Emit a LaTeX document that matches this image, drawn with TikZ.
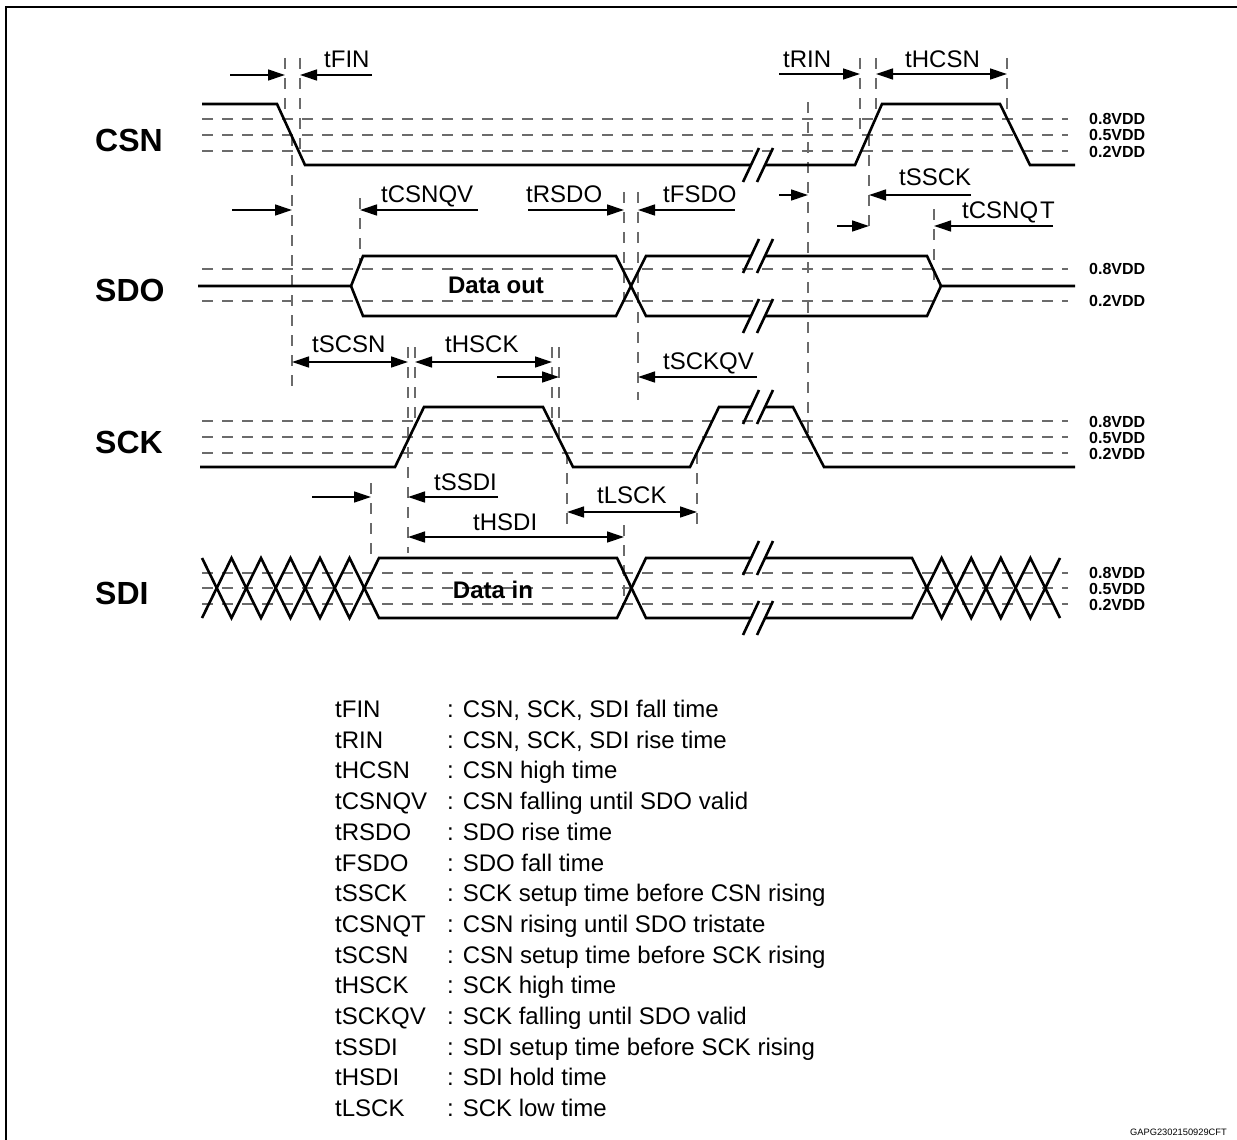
\documentclass[tikz,border=0pt]{standalone}
\usepackage{fontspec}
\setmainfont{Liberation Sans}
\usetikzlibrary{arrows.meta, calc}

\begin{document}
\begin{tikzpicture}[x=1pt, y=-1pt, >={Triangle[length=17pt, width=11pt]},
  senal/.style={line width=2.6pt},
  guia/.style={line width=1.15pt, black!58, dash pattern=on 11pt off 9pt},
  cota/.style={line width=1.3pt},
  etiq/.style={font=\fontsize{24}{28}\selectfont, inner sep=0pt, anchor=base west},
  nombre/.style={font=\bfseries\fontsize{32}{36}\selectfont, inner sep=0pt, anchor=west},
  nivel/.style={font=\bfseries\fontsize{16}{18}\selectfont, inner sep=0pt, anchor=west}]
  \useasboundingbox (0,0) rectangle (1237,1140);
  % marco
  \draw[line width=2.5pt] (6,1170) -- (6,7) -- (1270,7);

  % niveles de umbral
  \foreach \y in {119,135,151, 269,301, 421,437,453, 573,588,604}
    \draw[guia] (202,\y) -- (1068,\y);
  \foreach \y/\v [count=\i] in {119/0.8,135/0.5,152/0.2, 269/0.8,301/0.2,
      422/0.8,438/0.5,454/0.2, 573/0.8,589/0.5,605/0.2}
    \node[nivel] (niv\i) at (1089,\y) {\v VDD};

  % lineas de referencia verticales
  \foreach \x/\ya/\yb in {285/58/119, 300/58/151, 292/135/388, 360/198/262,
      624/192/301, 638/192/400, 808/102/436, 860/58/135, 876/58/119,
      1007/58/119, 869/135/233, 934/209/280, 408/347/553, 415/347/421,
      552/347/421, 559/347/437, 567/453/530, 697/453/530, 371/483/560,
      624/525/605}
    \draw[guia] (\x,\ya) -- (\x,\yb);

  % senales
  \node[nombre] (csn) at (95,140) {CSN};
  \node[nombre] (sdo) at (95,290) {SDO};
  \node[nombre] (sck) at (95,442) {SCK};
  \node[nombre] (sdi) at (95,593) {SDI};

  \draw[senal] (202,104) -- (277,104) -- (305,165) -- (855,165) -- (882,104)
    -- (1000,104) -- (1030,165) -- (1075,165);
  \draw[senal] (198,286) -- (351,286) -- (363,256) -- (616,256) -- (646,316)
    -- (927,316) -- (941,286) -- (1075,286);
  \draw[senal] (351,286) -- (363,316) -- (616,316) -- (646,256) -- (927,256)
    -- (941,286);
  \draw[senal] (200,467) -- (395,467) -- (424,407) -- (543,407) -- (573,467)
    -- (690,467) -- (719,407) -- (793,407) -- (824,467) -- (1075,467);
  \draw[senal] (202,558) -- (231.5,618) -- (261,558) -- (290.5,618) -- (320,558)
    -- (349.5,618) -- (379,558) -- (617,558) -- (646,618) -- (912,618)
    -- (941.6,558) -- (971.2,618) -- (1000.8,558) -- (1030.4,618) -- (1060,558);
  \draw[senal] (202,618) -- (231.5,558) -- (261,618) -- (290.5,558) -- (320,618)
    -- (349.5,558) -- (379,618) -- (617,618) -- (646,558) -- (912,558)
    -- (941.6,618) -- (971.2,558) -- (1000.8,618) -- (1030.4,558) -- (1060,618);

  \node[font=\bfseries\fontsize{24}{28}\selectfont] (dout) at (496,285) {Data out};
  \node[font=\bfseries\fontsize{24}{28}\selectfont] (din) at (493,590) {Data in};

  % cortes //
  \foreach \cy in {165,256,316,407,558,618} {
    \fill[white] (748.7,\cy+4) -- (753.3,\cy-4) -- (767.3,\cy-4) -- (762.7,\cy+4) -- cycle;
    \draw[senal] (743,\cy+17) -- (759,\cy-17) (757,\cy+17) -- (773,\cy-17);
  }

  % cotas
  \draw[cota,->] (230,75) -- (285,75);
  \draw[cota,->] (372,75) -- (300,75);
  \draw[cota,->] (779,74) -- (860,74);
  \draw[cota,<->] (876,74) -- (1007,74);
  \draw[cota,->] (232,210) -- (292,210);
  \draw[cota,->] (478,210) -- (360,210);
  \draw[cota,->] (528,210) -- (624,210);
  \draw[cota,->] (735,210) -- (638,210);
  \draw[cota,->] (779,195) -- (808,195);
  \draw[cota,->] (971,195) -- (869,195);
  \draw[cota,->] (837,226) -- (869,226);
  \draw[cota,->] (1053,226) -- (934,226);
  \draw[cota,<->] (292,362) -- (408,362);
  \draw[cota,<->] (415,362) -- (552,362);
  \draw[cota,->] (497,377) -- (559,377);
  \draw[cota,->] (757,377) -- (638,377);
  \draw[cota,->] (312,497) -- (371,497);
  \draw[cota,->] (498,497) -- (408,497);
  \draw[cota,<->] (408,537) -- (624,537);
  \draw[cota,<->] (567,512) -- (697,512);

  \node[etiq] (lfin) at (324,67) {tFIN};
  \node[etiq] (lrin) at (783,67) {tRIN};
  \node[etiq] (lhcsn) at (905,67) {tHCSN};
  \node[etiq] (lcsnqv) at (381,202) {tCSNQV};
  \node[etiq] (lrsdo) at (526,202) {tRSDO};
  \node[etiq] (lfsdo) at (663,202) {tFSDO};
  \node[etiq] (lssck) at (899,185) {tSSCK};
  \node[etiq] (lcsnqt) at (962,218) {tCSNQ\kern2pt T};
  \node[etiq] (lscsn) at (312,352) {tSCSN};
  \node[etiq] (lhsck) at (445,352) {tHSCK};
  \node[etiq] (lsckqv) at (663,369) {tSCKQV};
  \node[etiq] (lssdi) at (434,490) {tSSDI};
  \node[etiq] (lhsdi) at (473,530) {tHSDI};
  \node[etiq] (llsck) at (597,503) {tLSCK};

  % leyenda
  \foreach \a/\b [count=\i] in {tFIN/{CSN, SCK, SDI fall time},
      tRIN/{CSN, SCK, SDI rise time}, tHCSN/CSN high time,
      tCSNQV/CSN falling until SDO valid, tRSDO/SDO rise time,
      tFSDO/SDO fall time, tSSCK/SCK setup time before CSN rising,
      tCSNQT/CSN rising until SDO tristate, tSCSN/CSN setup time before SCK rising,
      tHSCK/SCK high time, tSCKQV/SCK falling until SDO valid,
      tSSDI/SDI setup time before SCK rising, tHSDI/SDI hold time,
      tLSCK/SCK low time} {
    \node[etiq] (sim\i) at (335,{717.5+30.7*(\i-1)}) {\a};
    \node[etiq] (des\i) at (447,{717.5+30.7*(\i-1)}) {: \b};
  }

  \node[font=\fontsize{9.3}{11}\selectfont, inner sep=0pt, anchor=east] (ref) at (1227,1132) {GAPG2302150929CFT};
\end{tikzpicture}
\end{document}
